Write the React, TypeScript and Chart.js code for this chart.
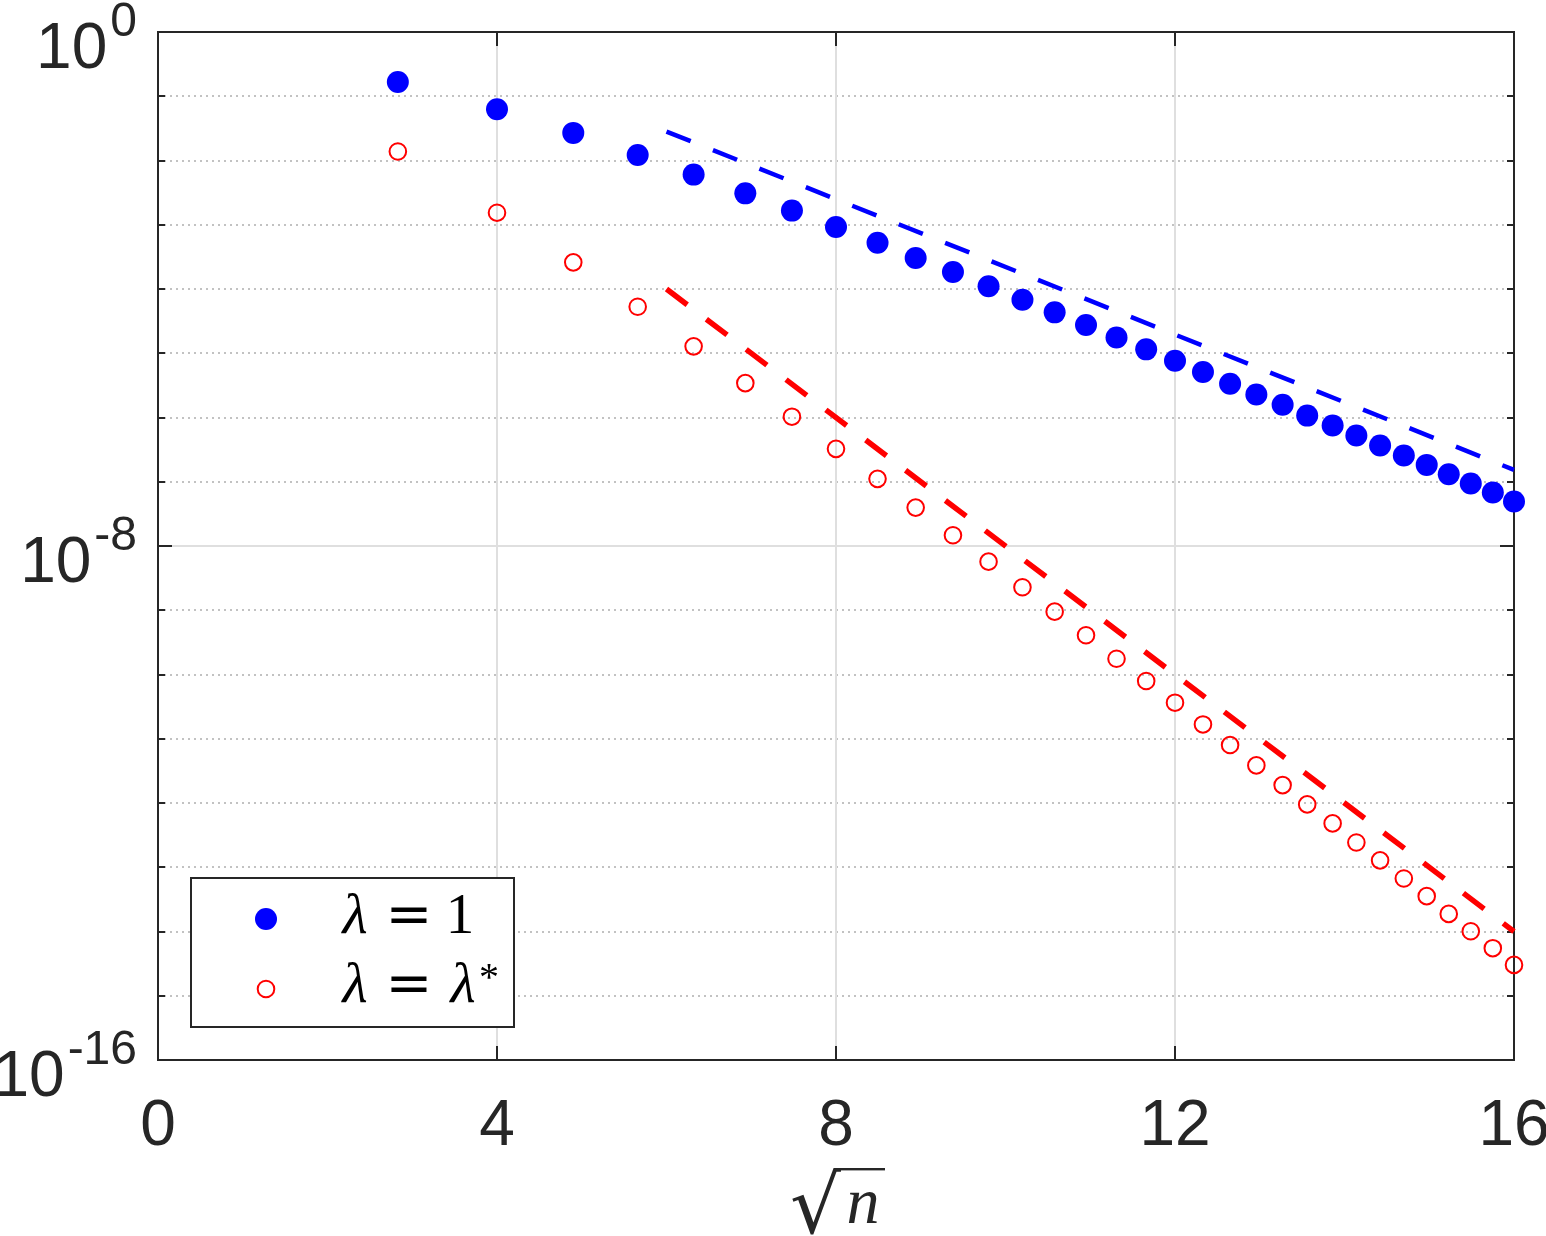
import { useEffect, useRef } from "react";
import { Chart, registerables } from "chart.js";

Chart.register(...registerables);

// sqrt(n) for n = 8, 16, ..., 256
const sqrtN = [
  2.83, 4.0, 4.9, 5.66, 6.32, 6.93, 7.48, 8.0, 8.49, 8.94, 9.38, 9.8, 10.2, 10.58, 10.95, 11.31,
  11.66, 12.0, 12.33, 12.65, 12.96, 13.27, 13.56, 13.86, 14.14, 14.42, 14.7, 14.97, 15.23, 15.49,
  15.75, 16.0,
];

// error with lambda = 1 (filled blue markers)
const errLambdaOne = [
  1.67e-1, 6.28e-2, 2.69e-2, 1.22e-2, 6.03e-3, 3.08e-3, 1.66e-3, 9.23e-4, 5.26e-4, 3.04e-4,
  1.84e-4, 1.1e-4, 6.81e-5, 4.33e-5, 2.75e-5, 1.76e-5, 1.15e-5, 7.64e-6, 5.09e-6, 3.35e-6,
  2.28e-6, 1.58e-6, 1.07e-6, 7.5e-7, 5.25e-7, 3.66e-7, 2.56e-7, 1.83e-7, 1.31e-7, 9.38e-8,
  6.79e-8, 4.92e-8,
];

// error with lambda = lambda* (open red markers)
const errLambdaStar = [
  1.38e-2, 1.54e-3, 2.6e-4, 5.3e-5, 1.28e-5, 3.43e-6, 1.03e-6, 3.25e-7, 1.11e-7, 3.96e-8,
  1.47e-8, 5.71e-9, 2.28e-9, 9.51e-10, 4.08e-10, 1.76e-10, 7.92e-11, 3.64e-11, 1.67e-11,
  7.98e-12, 3.85e-12, 1.9e-12, 9.51e-13, 4.81e-13, 2.43e-13, 1.28e-13, 6.68e-14, 3.55e-14,
  1.88e-14, 1.01e-14, 5.5e-15, 3.02e-15,
];

// dashed reference rates
const fitX = [6, 16];
const fitLambdaOne = [2.82e-2, 1.53e-7];
const fitLambdaStar = [1e-4, 1e-14];

const xTicks = [0, 4, 8, 12, 16];
const xGridValues = [4, 8, 12];
const yMajorExponents = ["0", "-8", "-16"];
const yMinorExponents = [-1, -2, -3, -4, -5, -6, -7, -9, -10, -11, -12, -13, -14, -15];

const W = 1546;
const H = 1236;
const AXIS = "#262626";
const SANS = "'Liberation Sans', Arial, sans-serif";
const SERIF = "'Liberation Serif', 'Times New Roman', serif";

const framePlugin = {
  id: "frame",
  beforeDatasetsDraw(chart: any) {
    const { ctx, chartArea: a, scales } = chart;
    const xs = scales.x;
    const ys = scales.y;
    ctx.save();

    // dotted decade grid
    ctx.strokeStyle = "#c2c2c2";
    ctx.lineWidth = 2;
    ctx.setLineDash([2, 4]);
    for (const e of yMinorExponents) {
      const py = Math.round(ys.getPixelForValue(Math.pow(10, e)));
      ctx.beginPath();
      ctx.moveTo(a.left, py);
      ctx.lineTo(a.right, py);
      ctx.stroke();
    }
    ctx.setLineDash([]);

    // solid major grid
    ctx.strokeStyle = "#dfdfdf";
    ctx.lineWidth = 2;
    for (const v of xGridValues) {
      const px = Math.round(xs.getPixelForValue(v));
      ctx.beginPath();
      ctx.moveTo(px, a.top);
      ctx.lineTo(px, a.bottom);
      ctx.stroke();
    }
    for (const e of yMajorExponents) {
      const py = Math.round(ys.getPixelForValue(Math.pow(10, Number(e))));
      ctx.beginPath();
      ctx.moveTo(a.left, py);
      ctx.lineTo(a.right, py);
      ctx.stroke();
    }

    // axes box
    ctx.strokeStyle = AXIS;
    ctx.lineWidth = 2;
    ctx.strokeRect(a.left, a.top, a.right - a.left, a.bottom - a.top);

    // inward ticks
    const major = 14;
    const minor = 7;
    ctx.beginPath();
    for (const e of yMajorExponents) {
      const py = Math.round(ys.getPixelForValue(Math.pow(10, Number(e))));
      ctx.moveTo(a.left, py);
      ctx.lineTo(a.left + major, py);
      ctx.moveTo(a.right, py);
      ctx.lineTo(a.right - major, py);
    }
    for (const e of yMinorExponents) {
      const py = Math.round(ys.getPixelForValue(Math.pow(10, e)));
      ctx.moveTo(a.left, py);
      ctx.lineTo(a.left + minor, py);
      ctx.moveTo(a.right, py);
      ctx.lineTo(a.right - minor, py);
    }
    for (const v of xTicks) {
      const px = Math.round(xs.getPixelForValue(v));
      ctx.moveTo(px, a.bottom);
      ctx.lineTo(px, a.bottom - major);
      ctx.moveTo(px, a.top);
      ctx.lineTo(px, a.top + major);
    }
    ctx.stroke();
    ctx.restore();
  },
  afterDraw(chart: any) {
    const { ctx, scales } = chart;
    const xs = scales.x;
    const ys = scales.y;
    ctx.save();
    ctx.fillStyle = AXIS;

    // y tick labels: 10^e
    const supRight = 137;
    for (const e of yMajorExponents) {
      const py = ys.getPixelForValue(Math.pow(10, Number(e)));
      ctx.font = `48px ${SANS}`;
      ctx.textAlign = "right";
      ctx.textBaseline = "alphabetic";
      const supW = ctx.measureText(e).width;
      ctx.fillText(e, supRight, py + 4);
      ctx.font = `64px ${SANS}`;
      ctx.fillText("10", supRight - supW - 3, py + 36);
    }

    // x tick labels
    ctx.font = `64px ${SANS}`;
    ctx.textAlign = "center";
    for (const v of xTicks) {
      ctx.fillText(String(v), xs.getPixelForValue(v), 1145);
    }

    // x axis title: sqrt(n)
    ctx.textAlign = "left";
    ctx.font = `100px 'DejaVu Serif', serif`;
    const m0 = ctx.measureText("\u221A");
    const h0 = m0.actualBoundingBoxAscent + m0.actualBoundingBoxDescent;
    const rSize = (100 * 68) / h0;
    ctx.font = `${rSize}px 'DejaVu Serif', serif`;
    const m = ctx.measureText("\u221A");
    const rx = 792 + m.actualBoundingBoxLeft;
    const rBase = 1235 - m.actualBoundingBoxDescent;
    ctx.fillText("\u221A", rx, rBase);
    const rRight = rx + m.actualBoundingBoxRight;
    const rTop = rBase - m.actualBoundingBoxAscent;
    ctx.fillRect(rRight - 1.5, rTop, 885 - rRight + 1.5, 2.4);
    ctx.font = `italic 66px ${SERIF}`;
    ctx.textAlign = "center";
    ctx.fillText("n", 863, 1223);

    // legend
    const lx = 191, ly = 878, lw = 323, lh = 149;
    ctx.fillStyle = "#ffffff";
    ctx.fillRect(lx, ly, lw, lh);
    ctx.strokeStyle = AXIS;
    ctx.lineWidth = 2;
    ctx.strokeRect(lx, ly, lw, lh);

    ctx.fillStyle = "#0000ff";
    ctx.beginPath();
    ctx.arc(266, 919, 11, 0, Math.PI * 2);
    ctx.fill();
    ctx.strokeStyle = "#ff0000";
    ctx.lineWidth = 2;
    ctx.beginPath();
    ctx.arc(266, 989, 8.3, 0, Math.PI * 2);
    ctx.stroke();

    ctx.fillStyle = "#000000";
    ctx.textAlign = "center";
    ctx.font = `italic 58px ${SERIF}`;
    ctx.fillText("\u03BB", 355, 933);
    ctx.fillText("\u03BB", 355, 1002);
    ctx.fillText("\u03BB", 463, 1002);
    ctx.font = `56px 'DejaVu Serif', serif`;
    ctx.fillText("=", 409, 933);
    ctx.fillText("=", 409, 1002);
    ctx.font = `57px ${SERIF}`;
    ctx.fillText("1", 460, 933);
    ctx.font = `40px ${SERIF}`;
    ctx.fillText("*", 489, 990);

    ctx.restore();
  },
};

export default function App() {
  const canvasRef = useRef<HTMLCanvasElement | null>(null);

  useEffect(() => {
    document.body.style.margin = "0";
    const canvas = canvasRef.current;
    if (!canvas) return;

    const toPoints = (xs: number[], ys: number[]) => xs.map((x, i) => ({ x, y: ys[i] }));

    const chart = new Chart(canvas, {
      type: "scatter",
      data: {
        datasets: [
          {
            label: "\u03BB = 1",
            data: toPoints(sqrtN, errLambdaOne),
            pointStyle: "circle",
            pointRadius: 11,
            pointBackgroundColor: "#0000ff",
            pointBorderWidth: 0,
            showLine: false,
            clip: false,
          } as any,
          {
            label: "\u03BB = \u03BB*",
            data: toPoints(sqrtN, errLambdaStar),
            pointStyle: "circle",
            pointRadius: 8.3,
            pointBackgroundColor: "rgba(0,0,0,0)",
            pointBorderColor: "#ff0000",
            pointBorderWidth: 2,
            showLine: false,
            clip: false,
          } as any,
          {
            label: "rate 1",
            data: toPoints(fitX, fitLambdaOne),
            showLine: true,
            borderColor: "#0000ff",
            borderWidth: 4.5,
            borderDash: [26, 24],
            pointRadius: 0,
            tension: 0,
            fill: false,
            clip: false,
          } as any,
          {
            label: "rate 2",
            data: toPoints(fitX, fitLambdaStar),
            showLine: true,
            borderColor: "#ff0000",
            borderWidth: 5.5,
            borderDash: [26, 24],
            pointRadius: 0,
            tension: 0,
            fill: false,
            clip: false,
          } as any,
        ],
      },
      options: {
        responsive: false,
        animation: false,
        devicePixelRatio: 1,
        events: [],
        layout: { padding: { left: 158, top: 32, right: 32, bottom: 176 } },
        plugins: { legend: { display: false }, tooltip: { enabled: false } },
        scales: {
          x: { type: "linear", min: 0, max: 16, display: false },
          y: { type: "logarithmic", min: 1e-16, max: 1, display: false },
        },
      },
      plugins: [framePlugin],
    });

    return () => chart.destroy();
  }, []);

  return (
    <canvas
      ref={canvasRef}
      width={W}
      height={H}
      style={{ display: "block", width: W, height: H }}
    />
  );
}
